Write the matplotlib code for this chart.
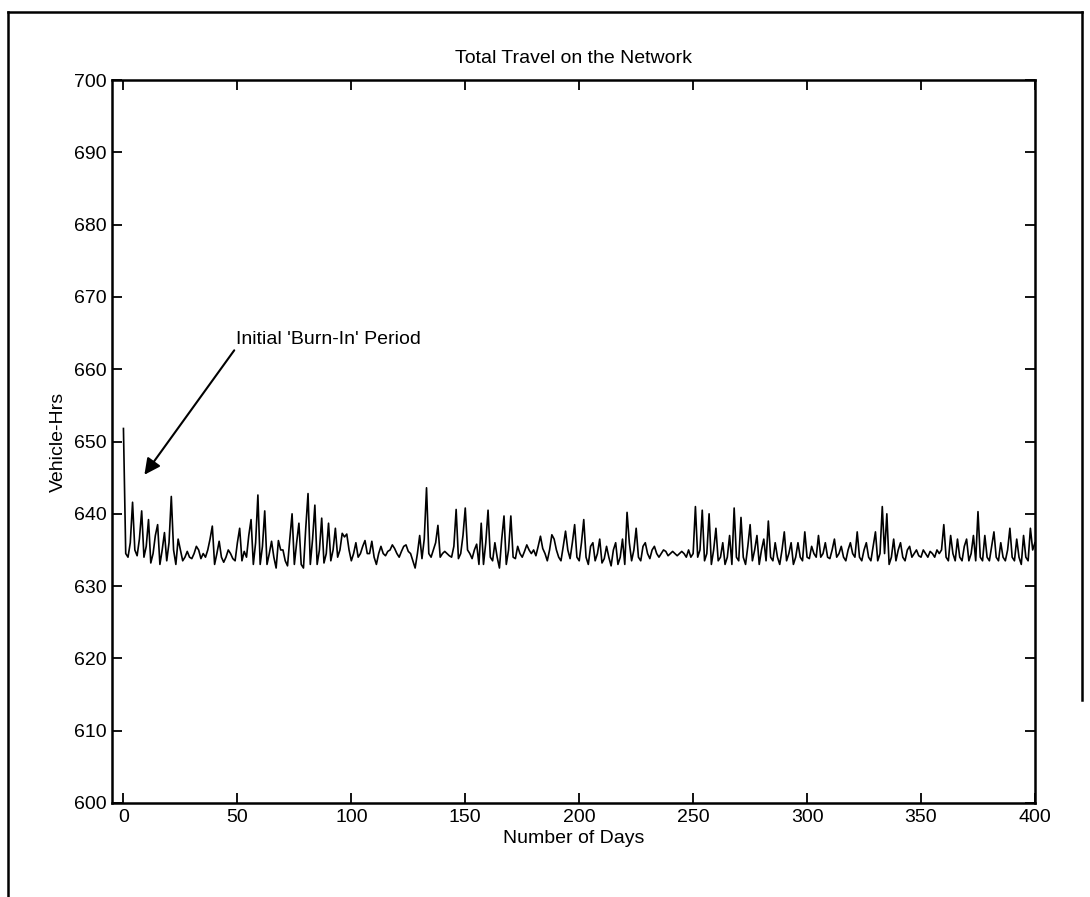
import matplotlib
matplotlib.use("Agg")
import matplotlib.pyplot as plt
from matplotlib.lines import Line2D
import numpy as np

TITLE = "Total Travel on the Network"
X_LABEL = "Number of Days"
Y_LABEL = "Vehicle-Hrs"
NOTE = "Initial 'Burn-In' Period"

x_ticks = [0, 50, 100, 150, 200, 250, 300, 350, 400]
y_ticks = [600, 610, 620, 630, 640, 650, 660, 670, 680, 690, 700]

# vehicle-hours, one value per day (days 0..400)
vhrs_000 = [651.8, 634.5, 634.0, 636.0, 641.6, 635.0, 634.2, 636.5, 640.4, 634.0,
            635.5, 639.2, 633.2, 634.5, 637.0, 638.5, 633.0, 635.0, 637.4, 633.5]
vhrs_020 = [636.0, 642.4, 635.0, 633.0, 636.5, 635.0, 633.5, 634.0, 634.8, 634.0,
            633.8, 634.5, 635.5, 635.0, 633.8, 634.5, 634.0, 635.0, 636.5, 638.3]
vhrs_040 = [633.0, 634.5, 636.2, 634.0, 633.3, 634.0, 635.0, 634.5, 633.8, 633.5,
            636.0, 638.0, 633.5, 634.8, 634.0, 637.0, 639.2, 633.0, 636.0, 642.6]
vhrs_060 = [633.0, 635.5, 640.4, 633.0, 634.5, 636.2, 634.0, 632.5, 636.3, 635.0,
            635.0, 633.5, 632.8, 636.5, 640.0, 633.0, 636.0, 638.7, 633.0, 632.5]
vhrs_080 = [638.0, 642.8, 633.0, 636.5, 641.2, 633.0, 635.0, 639.4, 633.2, 634.5,
            638.7, 633.5, 635.0, 638.0, 634.0, 635.0, 637.3, 636.8, 637.2, 635.0]
vhrs_100 = [633.5, 634.5, 636.0, 634.0, 634.5, 635.5, 636.3, 634.5, 634.5, 636.2,
            634.0, 633.0, 634.5, 635.5, 634.5, 634.2, 634.8, 635.0, 635.7, 635.2]
vhrs_120 = [634.5, 634.0, 634.8, 635.5, 635.7, 634.8, 634.5, 633.5, 632.5, 634.5,
            637.0, 633.8, 636.5, 643.6, 634.5, 634.0, 635.0, 636.0, 638.4, 634.0]
vhrs_140 = [634.5, 634.8, 634.5, 634.2, 634.0, 635.5, 640.6, 633.8, 634.5, 637.0,
            640.8, 635.0, 634.5, 633.8, 635.0, 635.8, 633.0, 638.7, 633.0, 636.0]
vhrs_160 = [640.5, 634.0, 633.5, 636.0, 634.0, 632.5, 636.5, 639.7, 633.0, 635.0,
            639.7, 634.0, 633.8, 635.5, 634.5, 634.0, 634.8, 635.7, 635.0, 634.5]
vhrs_180 = [635.0, 634.2, 635.5, 636.9, 635.2, 634.5, 633.5, 635.0, 637.1, 636.5,
            635.0, 634.0, 633.5, 635.5, 637.6, 635.0, 633.8, 636.0, 638.5, 634.0]
vhrs_200 = [633.5, 636.0, 639.2, 634.0, 633.0, 635.5, 636.0, 633.5, 634.5, 636.5,
            633.2, 633.8, 635.5, 634.0, 632.8, 635.0, 636.0, 633.0, 634.0, 636.5]
vhrs_220 = [633.0, 640.2, 636.0, 633.5, 635.0, 638.0, 634.0, 633.5, 635.5, 636.0,
            634.5, 633.8, 635.0, 635.5, 634.5, 634.0, 634.5, 635.0, 634.8, 634.2]
vhrs_240 = [634.5, 634.8, 634.5, 634.2, 634.5, 634.8, 634.5, 634.0, 635.0, 634.0,
            634.5, 641.0, 634.0, 635.0, 640.5, 633.5, 634.5, 640.0, 633.0, 635.0]
vhrs_260 = [638.0, 633.5, 634.0, 636.0, 633.0, 634.0, 637.0, 633.0, 640.8, 634.0,
            633.5, 639.5, 634.0, 633.0, 635.5, 638.5, 633.5, 635.0, 637.0, 633.0]
vhrs_280 = [635.0, 636.5, 633.5, 639.0, 634.0, 633.5, 636.0, 634.0, 633.0, 635.0,
            637.5, 633.5, 634.5, 636.0, 633.0, 634.0, 636.0, 634.0, 633.5, 637.5]
vhrs_300 = [634.0, 633.8, 635.5, 634.5, 634.0, 637.0, 634.0, 634.5, 636.0, 634.0,
            633.8, 635.0, 636.5, 634.0, 634.5, 635.5, 634.0, 633.5, 635.0, 636.0]
vhrs_320 = [634.5, 634.0, 637.5, 634.0, 633.5, 635.0, 636.0, 634.0, 633.5, 635.5,
            637.5, 633.5, 634.5, 641.0, 634.5, 640.0, 633.0, 634.0, 636.5, 633.5]
vhrs_340 = [635.0, 636.0, 634.0, 633.5, 635.0, 635.5, 634.0, 634.5, 635.0, 634.2,
            634.0, 635.0, 634.5, 634.0, 634.8, 634.5, 634.0, 635.0, 634.5, 635.0]
vhrs_360 = [638.5, 634.0, 633.5, 637.0, 634.5, 633.5, 636.5, 634.0, 633.5, 635.5,
            636.5, 633.5, 634.5, 637.0, 633.5, 640.3, 634.0, 633.5, 637.0, 634.0]
vhrs_380 = [633.5, 635.5, 637.5, 634.0, 633.5, 636.0, 634.0, 633.5, 635.0, 638.0,
            634.0, 633.5, 636.5, 634.0, 633.0, 637.0, 634.0, 633.5, 638.0, 635.0,
            636.0]

vhrs = (vhrs_000 + vhrs_020 + vhrs_040 + vhrs_060 + vhrs_080 + vhrs_100 + vhrs_120
        + vhrs_140 + vhrs_160 + vhrs_180 + vhrs_200 + vhrs_220 + vhrs_240 + vhrs_260
        + vhrs_280 + vhrs_300 + vhrs_320 + vhrs_340 + vhrs_360 + vhrs_380)
days = np.arange(len(vhrs))

plt.rcParams['font.family'] = ['Liberation Sans', 'DejaVu Sans']
FS = 14

fig = plt.figure(figsize=(10.9, 8.97), dpi=100)
ax = fig.add_axes([0.1028, 0.1048, 0.8467, 0.8060])

ax.plot(days, vhrs, color='black', lw=1.2)

ax.set_xlim(-5, 400)
ax.set_ylim(600, 700)
ax.set_xticks(x_ticks)
ax.set_yticks(y_ticks)
ax.tick_params(direction='in', length=7, width=1.3, top=True, right=True,
               labelsize=FS, pad=4)
for s in ax.spines.values():
    s.set_linewidth(1.8)

ax.set_title(TITLE, fontsize=FS, pad=12)
ax.set_xlabel(X_LABEL, fontsize=FS, labelpad=3)
ax.set_ylabel(Y_LABEL, fontsize=FS, labelpad=5)

ax.annotate(NOTE, xy=(9.2, 645.4), xytext=(49.5, 663.0), fontsize=FS,
            ha='left', va='bottom',
            arrowprops=dict(arrowstyle='-|>', color='black', lw=1.5,
                            mutation_scale=24, shrinkA=0, shrinkB=0,
                            relpos=(0.0, 0.0)))

# outer frame of the scanned page
H = 897.0
W = 1090.0
fig.add_artist(Line2D([8 / W, 8 / W], [0, 1 - 12 / H], color='black', lw=1.8))
fig.add_artist(Line2D([8 / W, 1082 / W], [1 - 12 / H, 1 - 12 / H], color='black', lw=1.8))
fig.add_artist(Line2D([1082 / W, 1082 / W], [1 - 12 / H, 1 - 700 / H], color='black', lw=1.8))

fig.savefig("out.png", dpi=100)
